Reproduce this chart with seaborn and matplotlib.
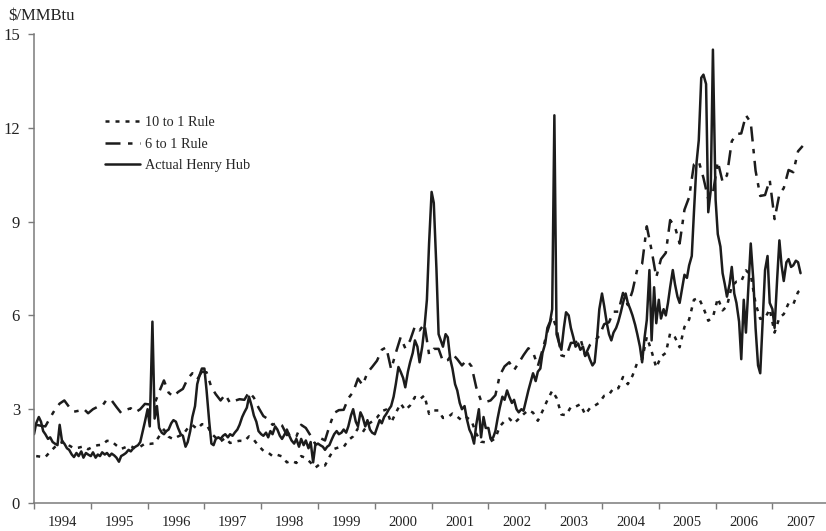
import numpy as np
import pandas as pd
import matplotlib
matplotlib.use("Agg")
import matplotlib.pyplot as plt
import seaborn as sns

# monthly values, Jan 1994 - Jul 2007 ($/MMBtu)
rule10 = [
    1.50, 1.48, 1.47, 1.64, 1.79, 1.91, 1.97, 1.84, 1.75, 1.77, 1.81, 1.72,
    1.80, 1.85, 1.86, 1.99, 1.97, 1.84, 1.73, 1.79, 1.82, 1.74, 1.80, 1.90,
    1.89, 1.91, 2.13, 2.35, 2.12, 2.04, 2.13, 2.19, 2.39, 2.49, 2.37, 2.52,
    2.51, 2.22, 2.09, 1.97, 2.08, 1.92, 1.96, 1.99, 1.98, 2.13, 2.02, 1.83,
    1.67, 1.61, 1.50, 1.54, 1.49, 1.30, 1.35, 1.28, 1.50, 1.44, 1.29, 1.13,
    1.25, 1.20, 1.47, 1.73, 1.78, 1.79, 2.01, 2.13, 2.39, 2.26, 2.50, 2.61,
    2.73, 2.94, 2.99, 2.57, 2.88, 3.18, 2.97, 3.12, 3.39, 3.31, 3.44, 2.85,
    2.96, 2.96, 2.72, 2.74, 2.86, 2.76, 2.64, 2.74, 2.62, 2.22, 1.96, 1.94,
    1.97, 2.07, 2.45, 2.62, 2.70, 2.55, 2.69, 2.84, 2.97, 2.89, 2.63, 2.94,
    3.29, 3.59, 3.36, 2.83, 2.81, 3.07, 3.08, 3.16, 2.83, 3.03, 3.11, 3.21,
    3.43, 3.47, 3.67, 3.67, 4.03, 3.80, 4.07, 4.49, 4.59, 5.31, 4.85, 4.33,
    4.68, 4.80, 5.43, 5.30, 4.98, 5.63, 5.87, 6.50, 6.56, 6.24, 5.83, 5.94,
    6.55, 6.16, 6.29, 6.94, 7.08, 7.09, 7.44, 7.30, 6.38, 5.89, 5.91, 6.20,
    5.45, 5.93, 6.04, 6.39, 6.35, 6.75, 6.85,
]
rule6 = [
    2.50, 2.47, 2.45, 2.73, 2.98, 3.18, 3.28, 3.07, 2.92, 2.95, 3.02, 2.87,
    3.00, 3.08, 3.10, 3.32, 3.28, 3.07, 2.88, 2.98, 3.03, 2.90, 3.00, 3.17,
    3.15, 3.18, 3.55, 3.92, 3.53, 3.40, 3.55, 3.65, 3.98, 4.15, 3.95, 4.20,
    4.18, 3.70, 3.48, 3.28, 3.47, 3.20, 3.27, 3.32, 3.30, 3.55, 3.37, 3.05,
    2.78, 2.68, 2.50, 2.57, 2.48, 2.17, 2.25, 2.13, 2.50, 2.40, 2.15, 1.88,
    2.08, 2.00, 2.45, 2.88, 2.97, 2.98, 3.35, 3.55, 3.98, 3.77, 4.17, 4.35,
    4.55, 4.90, 4.98, 4.28, 4.80, 5.30, 4.95, 5.20, 5.65, 5.52, 5.73, 4.75,
    4.93, 4.93, 4.53, 4.57, 4.77, 4.60, 4.40, 4.57, 4.37, 3.70, 3.27, 3.23,
    3.28, 3.45, 4.08, 4.37, 4.50, 4.25, 4.48, 4.73, 4.95, 4.82, 4.38, 4.90,
    5.48, 5.98, 5.60, 4.72, 4.68, 5.12, 5.13, 5.27, 4.72, 5.05, 5.18, 5.35,
    5.72, 5.78, 6.12, 6.12, 6.72, 6.33, 6.78, 7.48, 7.65, 8.85, 8.08, 7.22,
    7.80, 8.00, 9.05, 8.83, 8.30, 9.38, 9.78, 10.83, 10.93, 10.40, 9.72, 9.90,
    10.92, 10.27, 10.48, 11.57, 11.80, 11.82, 12.40, 12.17, 10.63, 9.82, 9.85, 10.33,
    9.08, 9.88, 10.07, 10.65, 10.58, 11.25, 11.42,
]
# twice a month (1st and 15th), Jan 1994 - Jul 2007
henry_hub = [
    2.20, 2.55, 2.75, 2.60, 2.30, 2.20, 2.05, 2.10, 1.95, 1.90, 1.85, 2.50,
    1.95, 1.90, 1.75, 1.70, 1.55, 1.47, 1.60, 1.50, 1.65, 1.45, 1.60, 1.55,
    1.50, 1.62, 1.45, 1.55, 1.50, 1.62, 1.55, 1.60, 1.50, 1.58, 1.52, 1.45,
    1.32, 1.50, 1.55, 1.60, 1.70, 1.65, 1.75, 1.80, 1.85, 1.95, 2.30, 2.60,
    3.00, 2.45, 5.80, 2.70, 3.10, 2.40, 2.25, 2.20, 2.30, 2.35, 2.55, 2.65,
    2.60, 2.40, 2.20, 2.15, 1.80, 1.95, 2.30, 2.75, 3.10, 3.80, 4.10, 4.30,
    4.30, 3.60, 2.60, 1.90, 1.85, 2.05, 2.10, 2.05, 2.15, 2.20, 2.10, 2.20,
    2.15, 2.25, 2.35, 2.50, 2.75, 2.90, 3.05, 3.40, 3.10, 2.80, 2.60, 2.30,
    2.20, 2.15, 2.25, 2.10, 2.30, 2.20, 2.45, 2.35, 2.15, 2.05, 2.20, 2.35,
    2.15, 2.00, 1.90, 2.05, 1.80, 2.05, 1.85, 2.00, 1.75, 1.95, 1.30, 1.85,
    1.90, 1.85, 1.80, 1.70, 1.80, 1.85, 2.05, 2.20, 2.30, 2.20, 2.25, 2.35,
    2.25, 2.45, 2.80, 3.00, 2.60, 2.45, 2.90, 2.75, 2.45, 2.65, 2.35, 2.25,
    2.20, 2.40, 2.65, 2.55, 2.75, 2.85, 3.00, 3.10, 3.40, 3.80, 4.35, 4.20,
    4.00, 3.70, 4.20, 4.50, 4.80, 5.20, 5.00, 4.50, 5.00, 5.60, 6.50, 8.30,
    9.95, 9.60, 7.50, 5.40, 5.20, 5.00, 5.40, 5.30, 4.60, 4.30, 3.80, 3.60,
    3.20, 3.00, 3.10, 2.70, 2.35, 2.20, 1.90, 2.50, 3.00, 2.10, 2.75, 2.40,
    2.40, 2.05, 2.10, 2.30, 2.70, 3.05, 3.40, 3.30, 3.60, 3.40, 3.20, 3.30,
    3.00, 2.90, 3.00, 2.95, 3.30, 3.60, 3.90, 4.15, 3.90, 4.20, 4.30, 4.80,
    5.10, 5.60, 5.80, 6.20, 12.40, 5.40, 5.10, 4.90, 5.60, 6.10, 6.00, 5.60,
    5.30, 5.00, 5.10, 4.90, 5.00, 4.70, 4.80, 4.60, 4.40, 4.50, 5.30, 6.20,
    6.70, 6.30, 5.75, 5.40, 5.20, 5.45, 5.60, 5.80, 6.10, 6.40, 6.70, 6.40,
    6.20, 6.00, 5.70, 5.40, 5.00, 4.50, 5.30, 5.85, 7.45, 5.20, 6.90, 5.75,
    6.50, 5.90, 6.20, 6.00, 6.40, 6.90, 7.45, 7.00, 6.60, 6.40, 6.90, 7.30,
    7.20, 7.60, 7.90, 9.30, 10.90, 11.60, 13.60, 13.70, 13.40, 9.30, 10.00, 14.50,
    9.70, 8.60, 8.20, 7.35, 7.00, 6.60, 7.00, 7.55, 6.70, 6.40, 5.80, 4.60,
    6.50, 5.45, 7.00, 8.30, 7.10, 5.60, 4.40, 4.15, 6.00, 7.45, 7.90, 6.40,
    6.20, 5.60, 7.20, 8.40, 7.60, 7.10, 7.70, 7.80, 7.55, 7.60, 7.75, 7.70,
    7.35,
]
years = list(range(1994, 2008))
series_names = ["10 to 1 Rule", "6 to 1 Rule", "Actual Henry Hub"]


def decimal_year(d):
    return d.year + (d.dayofyear - 1) / 365.25


rule_dates = pd.date_range("1994-01-01", periods=len(rule10), freq="MS") + pd.Timedelta(days=14)
hh_dates = pd.date_range("1994-01-01", periods=len(henry_hub), freq="SMS")

df = pd.concat([
    pd.DataFrame({"year": decimal_year(rule_dates), "price": rule10, "series": series_names[0]}),
    pd.DataFrame({"year": decimal_year(rule_dates), "price": rule6, "series": series_names[1]}),
    pd.DataFrame({"year": decimal_year(hh_dates), "price": henry_hub, "series": series_names[2]}),
], ignore_index=True)

sns.set_theme(style="white")
plt.rcParams["font.family"] = ["Liberation Serif", "DejaVu Serif"]

ink = "#1c1c1c"
axis_grey = "#7a7a7a"

fig = plt.figure(figsize=(8.26, 5.31), dpi=100)
ax = fig.add_axes([34 / 826, 28 / 531, 792 / 826, 469 / 531])

sns.lineplot(
    data=df, x="year", y="price", hue="series", style="series",
    hue_order=series_names, style_order=series_names,
    palette={n: ink for n in series_names},
    dashes={series_names[0]: (1.6, 2.4),
            series_names[1]: (6.0, 3.0, 1.8, 3.0),
            series_names[2]: ""},
    estimator=None, sort=False, linewidth=1.8, ax=ax,
)

ax.set_xlim(1994, 1994 + 792 / 56.8)
ax.set_ylim(0, 15)
ax.set_yticks([0, 3, 6, 9, 12, 15])
ax.set_xticks(years)
ax.set_xticks([y + 0.5 for y in years], minor=True)
ax.set_xticklabels([], minor=False)
ax.set_xticklabels([str(y) for y in years], minor=True)
ax.tick_params(axis="x", which="major", length=4, width=1, color=axis_grey,
               direction="out", bottom=True, labelbottom=False)
ax.tick_params(axis="x", which="minor", length=0, pad=9, labelsize=10.5,
               labelcolor="#222222")
ax.tick_params(axis="y", length=4, width=1, color=axis_grey, direction="out",
               left=True, pad=6, labelsize=12, labelcolor="#222222")
ax.set_xlabel("")
ax.set_ylabel("")
sns.despine(ax=ax)
for side in ("left", "bottom"):
    ax.spines[side].set_color(axis_grey)
    ax.spines[side].set_linewidth(1.1)

handles, labels = ax.get_legend_handles_labels()
ax.legend(handles, labels, loc="upper left", bbox_to_anchor=(0.082, 0.838),
          frameon=False, fontsize=10.3, handlelength=2.5, handletextpad=0.3,
          labelspacing=0.62, borderaxespad=0)

fig.text(8 / 826, 1 - 16 / 531, "$/MMBtu", ha="left", va="center",
         fontsize=12, color="#222222")

fig.savefig("out.png", dpi=100)
